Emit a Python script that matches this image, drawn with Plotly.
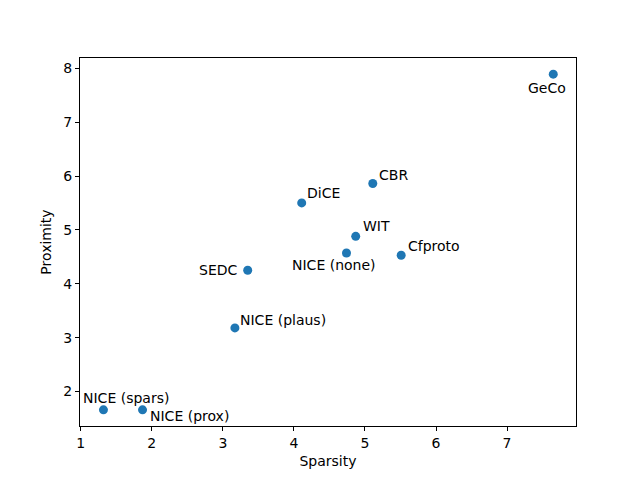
import plotly.graph_objects as go

# method names and their (sparsity, proximity) values
methods = ["GeCo", "CBR", "DiCE", "WIT", "NICE (none)", "Cfproto",
           "SEDC", "NICE (plaus)", "NICE (spars)", "NICE (prox)"]
sparsity = [7.65, 5.11, 4.11, 4.87, 4.74, 5.51, 3.35, 3.17, 1.32, 1.87]
proximity = [7.89, 5.86, 5.50, 4.88, 4.57, 4.53, 4.25, 3.18, 1.66, 1.66]

# label placement: (xanchor, xshift px, yshift px)
label_pos = {
    "GeCo": ("center", -6, -14),
    "CBR": ("left", 4, 9),
    "DiCE": ("left", 3, 10),
    "WIT": ("left", 5, 10),
    "NICE (none)": ("center", -12, -12),
    "Cfproto": ("left", 5, 9),
    "SEDC": ("right", -8, 0),
    "NICE (plaus)": ("left", 3, 8),
    "NICE (spars)": ("center", 23, 12),
    "NICE (prox)": ("left", 5, -6),
}

fig = go.Figure()
fig.add_trace(go.Scatter(
    x=sparsity, y=proximity, mode="markers",
    marker=dict(color="#1f77b4", size=9),
    showlegend=False,
))

for name, xv, yv in zip(methods, sparsity, proximity):
    anchor, dx, dy = label_pos[name]
    fig.add_annotation(
        x=xv, y=yv, text=name, showarrow=False,
        xanchor=anchor, yanchor="middle",
        xshift=dx, yshift=dy,
        font=dict(family="DejaVu Sans", size=14, color="black"),
    )

axis_style = dict(
    showline=True, linecolor="black", linewidth=1, mirror=True,
    ticks="outside", ticklen=4, tickcolor="black",
    showgrid=False, zeroline=False,
    tickfont=dict(family="DejaVu Sans", size=14, color="black"),
    title_font=dict(family="DejaVu Sans", size=14, color="black"),
)

fig.update_xaxes(range=[0.99, 7.97], tickvals=[1, 2, 3, 4, 5, 6, 7],
                 title_text="Sparsity", title_standoff=6, **axis_style)
fig.update_yaxes(range=[1.36, 8.19], tickvals=[2, 3, 4, 5, 6, 7, 8],
                 title_text="Proximity", title_standoff=8, **axis_style)

# page body adds an 8px offset, so the figure is a little smaller
fig.update_layout(
    width=632, height=472,
    margin=dict(l=72, r=64, t=50, b=54),
    plot_bgcolor="white", paper_bgcolor="white",
)

fig.write_html("out.html")
